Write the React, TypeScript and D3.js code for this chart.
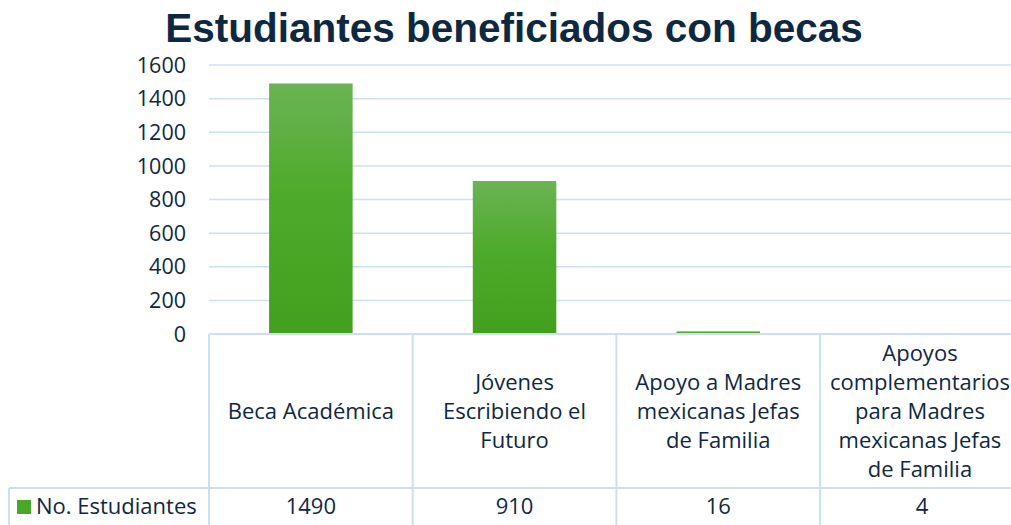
import React from "react";
import * as d3 from "d3";

const categories = [
  "Beca Académica",
  "Jóvenes Escribiendo el Futuro",
  "Apoyo a Madres mexicanas Jefas de Familia",
  "Apoyos complementarios para Madres mexicanas Jefas de Familia",
];
const categoryLines = [
  ["Beca Académica"],
  ["Jóvenes", "Escribiendo el", "Futuro"],
  ["Apoyo a Madres", "mexicanas Jefas", "de Familia"],
  ["Apoyos", "complementarios", "para Madres", "mexicanas Jefas", "de Familia"],
];
const seriesName = "No. Estudiantes";
const values = [1490, 910, 16, 4];
const yTicks = [0, 200, 400, 600, 800, 1000, 1200, 1400, 1600];
const title = "Estudiantes beneficiados con becas";

const W = 1011;
const H = 525;
const left = 209;
const colW = 203.7;
const top = 65;
const bottom = 334;
const tableMid = 488;
const textColor = "#0e2841";
const gridColor = "#cddff3";
const font = "'Open Sans', sans-serif";

export default function App() {
  const x = d3
    .scaleBand<string>()
    .domain(categories)
    .range([left, left + colW * categories.length])
    .paddingInner(0.59)
    .paddingOuter(0.295);
  const y = d3.scaleLinear().domain([0, 1600]).range([bottom, top]);
  const lineH = 29.2;
  const cellMid = (bottom + tableMid) / 2;

  return (
    <svg
      width={W}
      height={H}
      style={{ position: "absolute", left: 0, top: 0, background: "#fff" }}
    >
      <defs>
        <linearGradient id="barGrad" x1="0" y1="0" x2="0" y2="1">
          <stop offset="0%" stopColor="#6ab454" />
          <stop offset="45%" stopColor="#4eaa2a" />
          <stop offset="100%" stopColor="#43a01e" />
        </linearGradient>
      </defs>
      <text
        x={514}
        y={42}
        textAnchor="middle"
        fontFamily="'Liberation Sans', Arial, sans-serif"
        fontWeight="bold"
        fontSize={40.5}
        fill={textColor}
      >
        {title}
      </text>
      {yTicks.map((t) => (
        <g key={t}>
          {t > 0 && (
            <line
              x1={left}
              x2={W}
              y1={y(t)}
              y2={y(t)}
              stroke={gridColor}
              strokeWidth={1.5}
            />
          )}
          <text
            x={186}
            y={y(t)}
            dy="0.36em"
            textAnchor="end"
            fontFamily={font}
            fontSize={21.5}
            fill={textColor}
          >
            {t}
          </text>
        </g>
      ))}
      {categories.map((c, i) => (
        <rect
          key={c}
          x={x(c)}
          width={x.bandwidth()}
          y={y(values[i])}
          height={Math.max(bottom - y(values[i]), 0)}
          fill="url(#barGrad)"
        />
      ))}
      {/* table */}
      <line x1={left} x2={W} y1={bottom} y2={bottom} stroke={gridColor} strokeWidth={2} />
      <line x1={9} x2={W} y1={tableMid} y2={tableMid} stroke={gridColor} strokeWidth={2} />
      <line x1={9} x2={9} y1={tableMid} y2={H} stroke={gridColor} strokeWidth={2} />
      {categories.map((c, i) => (
        <line
          key={"v" + i}
          x1={left + colW * i}
          x2={left + colW * i}
          y1={bottom}
          y2={H}
          stroke={gridColor}
          strokeWidth={2}
        />
      ))}
      {categories.map((c, i) => {
        const lines = categoryLines[i];
        const cx = left + colW * (i + 0.5) - (i === 3 ? 2 : 0);
        const startY = cellMid - ((lines.length - 1) * lineH) / 2;
        return (
          <text
            key={"l" + i}
            textAnchor="middle"
            fontFamily={font}
            fontSize={22}
            fill={textColor}
          >
            {lines.map((ln, j) => (
              <tspan key={j} x={cx} y={startY + j * lineH} dy="0.36em">
                {ln}
              </tspan>
            ))}
          </text>
        );
      })}
      {values.map((v, i) => (
        <text
          key={"val" + i}
          x={left + colW * (i + 0.5)}
          y={506}
          dy="0.36em"
          textAnchor="middle"
          fontFamily={font}
          fontSize={22}
          fill={textColor}
        >
          {v}
        </text>
      ))}
      <rect x={17} y={500} width={14} height={14} fill="#4aa626" />
      <text
        x={36}
        y={506}
        dy="0.36em"
        fontFamily={font}
        fontSize={22}
        fill={textColor}
      >
        {seriesName}
      </text>
    </svg>
  );
}
